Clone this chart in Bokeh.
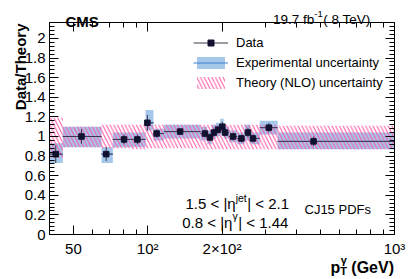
import math
from bokeh.plotting import figure
from bokeh.models import (FixedTicker, LinearAxis, LogAxis, Label, Legend, LegendItem,
                          ColumnDataSource, Range1d)
from bokeh.embed import file_html
from bokeh.resources import INLINE

# ---------------- data ----------------
bin_lo = [40, 45.3, 65, 72.2, 85.4, 98, 105.5, 116.4, 163.9, 174.4, 182, 189, 196.6,
          203, 213.7, 230.5, 246.8, 260.5, 284.6, 336]
bin_hi = [45.3, 65, 72.2, 85.4, 98, 105.5, 116.4, 163.9, 174.4, 182, 189, 196.6, 203,
          213.7, 230.5, 246.8, 260.5, 284.6, 336, 1000]
pt = [42.4, 53.9, 67.9, 80.2, 90.8, 99.7, 108.7, 135.3, 170.6, 178.8, 185.5, 192.6,
      200.7, 205.8, 221.7, 239.7, 254.9, 267.0, 309.6, 470]
ratio = [0.82, 1.00, 0.82, 0.97, 0.97, 1.14, 1.03, 1.05, 1.03, 0.99, 1.04, 1.07, 1.10,
         1.04, 1.00, 0.98, 1.04, 0.98, 1.09, 0.95]
stat_err = [0.09, 0.075, 0.07, 0.05, 0.05, 0.08, 0.04, 0.03, 0.04, 0.04, 0.04, 0.04,
            0.05, 0.04, 0.04, 0.04, 0.05, 0.04, 0.05, 0.05]
exp_lo = [0.73, 0.89, 0.73, 0.89, 0.89, 1.06, 0.96, 0.98, 0.96, 0.92, 0.98, 1.00, 1.02,
          0.98, 0.94, 0.92, 0.96, 0.92, 1.02, 0.87]
exp_hi = [0.93, 1.10, 0.89, 1.04, 1.04, 1.27, 1.08, 1.12, 1.10, 1.06, 1.12, 1.14, 1.18,
          1.10, 1.06, 1.04, 1.12, 1.04, 1.16, 1.04]
theo_lo = [0.78, 0.89, 0.88, 0.88, 0.87, 0.88, 0.88, 0.88, 0.87, 0.87, 0.87, 0.87, 0.87,
           0.87, 0.87, 0.87, 0.87, 0.87, 0.87, 0.87]
theo_hi = [1.19, 1.10, 1.12, 1.12, 1.12, 1.12, 1.12, 1.12, 1.12, 1.12, 1.12, 1.12, 1.12,
           1.12, 1.12, 1.12, 1.12, 1.12, 1.12, 1.11]

x_min, x_max = 40, 1000
y_min, y_max = 0.0, 2.163
x_ticks = [50, 100, 200, 1000]
x_tick_labels = ["50", "10\u00b2", "2\u00d710\u00b2", "10\u00b3"]
x_minor = [40, 60, 70, 80, 90, 300, 400, 500, 600, 700, 800, 900]
y_ticks = [0, 0.2, 0.4, 0.6, 0.8, 1.0, 1.2, 1.4, 1.6, 1.8, 2.0]
y_minor = [round(i * 0.04, 2) for i in range(0, 55)]

FONT = "Liberation Sans"
EXP_FILL = "#a5c7ea"
EXP_LINE = "#3f80d2"
HATCH = "#ff4fa3"
MARK = "#111130"
BAR = "#3a3a4c"

# ---------------- layout (page pixels) ----------------
W, H = 410, 278
FX0, FX1, FY0, FY1 = 49, 394, 22, 234   # visual frame: left, right, top, bottom
PPD = (FX1 - FX0) / (math.log10(x_max) - math.log10(x_min))   # px per decade
PPU = (FY1 - FY0) / (y_max - y_min)                           # px per unit


def dx(px):
    return 10 ** (math.log10(x_min) + (px - FX0) / PPD)


def dy(py):
    return y_min + (FY1 - py) / PPU


src = ColumnDataSource(dict(
    lo=bin_lo, hi=bin_hi, pt=pt, r=ratio,
    elo=[r - e for r, e in zip(ratio, stat_err)],
    ehi=[r + e for r, e in zip(ratio, stat_err)],
    xlo=exp_lo, xhi=exp_hi, tlo=theo_lo, thi=theo_hi))

p = figure(width=W, height=H, x_axis_type="log",
           x_range=Range1d(dx(0), dx(W)), y_range=Range1d(dy(H), dy(0)),
           x_axis_location=None, y_axis_location=None,
           output_backend="svg", toolbar_location=None, min_border=0)
p.grid.visible = False
p.outline_line_color = None
p.background_fill_color = "white"
p.border_fill_color = "white"

r_exp = p.quad(left="lo", right="hi", bottom="xlo", top="xhi", source=src,
               fill_color=EXP_FILL, line_color=None)
r_expline = p.segment(x0="lo", x1="hi", y0="r", y1="r", source=src,
                      line_color=EXP_LINE, line_width=1)
r_theo = p.quad(left="lo", right="hi", bottom="tlo", top="thi", source=src,
                fill_color=None, fill_alpha=0, line_color=None,
                hatch_pattern="\\", hatch_color=HATCH, hatch_weight=1.0, hatch_scale=7.5)
r_hbar = p.segment(x0="lo", x1="hi", y0="r", y1="r", source=src,
                   line_color=BAR, line_width=1)
r_vbar = p.segment(x0="pt", x1="pt", y0="elo", y1="ehi", source=src,
                   line_color=BAR, line_width=1)
r_pts = p.scatter(x="pt", y="r", source=src, marker="square", size=5.5,
                  fill_color=MARK, line_color=MARK)


# ---------------- axes (drawn at the frame edges) ----------------
def style_axis(ax, standoff=4):
    ax.axis_line_color = "black"
    ax.axis_line_width = 1
    ax.major_tick_line_color = "black"
    ax.minor_tick_line_color = "black"
    ax.major_tick_in = 9
    ax.major_tick_out = 0
    ax.minor_tick_in = 5
    ax.minor_tick_out = 0
    ax.major_label_standoff = standoff
    ax.major_label_text_font = FONT
    ax.major_label_text_font_size = "15px"
    ax.major_label_text_color = "black"


bottom = LogAxis(ticker=FixedTicker(ticks=x_ticks, minor_ticks=x_minor),
                 fixed_location=y_min, bounds=(x_min, x_max))
bottom.major_label_overrides = {t: l for t, l in zip(x_ticks, x_tick_labels)}
style_axis(bottom, 5)
p.add_layout(bottom, "below")

left = LinearAxis(ticker=FixedTicker(ticks=y_ticks, minor_ticks=y_minor),
                  fixed_location=x_min, bounds=(y_min, y_max))
left.major_label_overrides = {t: ("%g" % t) for t in y_ticks}
style_axis(left, 4)
p.add_layout(left, "left")

top = LogAxis(ticker=FixedTicker(ticks=x_ticks, minor_ticks=x_minor),
              fixed_location=y_max, bounds=(x_min, x_max))
top.major_label_overrides = {t: "" for t in x_ticks}
style_axis(top, 0)
p.add_layout(top, "above")

right = LinearAxis(ticker=FixedTicker(ticks=y_ticks, minor_ticks=y_minor),
                   fixed_location=x_max, bounds=(y_min, y_max))
right.major_label_overrides = {t: "" for t in y_ticks}
style_axis(right, 0)
p.add_layout(right, "right")

# ---------------- legend ----------------
legend = Legend(items=[
    LegendItem(label="Data", renderers=[r_hbar, r_pts]),
    LegendItem(label="Experimental uncertainty", renderers=[r_exp, r_expline]),
    LegendItem(label="Theory (NLO) uncertainty", renderers=[r_theo]),
], location=(193, H - 89.5), padding=0, margin=0, spacing=5,
    glyph_width=35, glyph_height=15, label_height=15, label_standoff=8,
    label_text_font=FONT, label_text_font_size="13px", label_text_color="black",
    border_line_alpha=0, background_fill_alpha=0)
p.add_layout(legend)


# ---------------- texts ----------------
def lab(px, py, text, size="15px", bold=False, align="left", baseline="alphabetic", angle=0):
    p.add_layout(Label(x=dx(px), y=dy(py), text=text, text_font=FONT,
                       text_font_size=size, text_font_style="bold" if bold else "normal",
                       text_align=align, text_baseline=baseline, angle=angle,
                       text_color="black"))


CW = {' ': 278, '.': 278, '<': 584, '|': 260, '\u03b7': 556, '\u03b3': 500, 'j': 222,
      'e': 556, 't': 278, 'f': 278, 'b': 556, '-': 333, '(': 333, ')': 333, 'T': 611,
      'V': 667}


def tw(s, size):
    return sum(CW.get(c, 556) for c in s) * size / 1000.0


def sup_text(x0, base, head, sup, tail, size, ssize, raise_px):
    lab(x0, base, head, "%gpx" % size)
    x1 = x0 + tw(head, size)
    lab(x1, base - raise_px, sup, "%gpx" % ssize)
    x2 = x1 + tw(sup, ssize) + 0.5
    lab(x2, base, tail, "%gpx" % size)


lab(65, 20.5, "CMS", "15px", bold=True)
sup_text(272.5, 18.5, "19.7 fb", "-1", " ( 8 TeV)", 13.5, 9.5, 5)
lab(11.7, 23, "Data/Theory", "15px", bold=True, align="right", baseline="top",
    angle=math.pi / 2)

# x axis title: p_T^gamma (GeV)
lab(393.5, 266.7, "(GeV)", "16px", bold=True, align="right")
lab(339.7, 270.5, "T", "11px", bold=True)
lab(340.2, 259.5, "\u03b3", "11px", bold=True)
lab(339.7, 266.7, "p", "16px", bold=True, align="right")

# eta ranges
sup_text(185, 203.3, "1.5 < |\u03b7", "jet", "| < 2.1", 15, 10.5, 6)
sup_text(181.7, 221.7, "0.8 < |\u03b7", "\u03b3", "| < 1.44", 15, 10.5, 6)
lab(304, 209, "CJ15 PDFs", "13px")

open("out.html", "w").write(file_html(p, INLINE))
